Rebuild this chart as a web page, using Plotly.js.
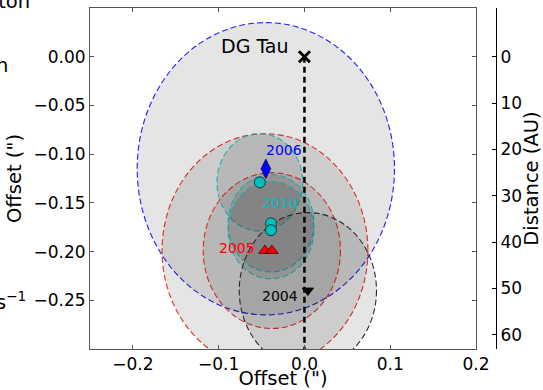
<!DOCTYPE html>
<html>
<head>
<meta charset="utf-8">
<script src="https://cdn.plot.ly/plotly-3.0.1.min.js"></script>
<style>html,body{margin:0;padding:0;background:#fff}#chart{width:543px;height:390px}</style>
</head>
<body>
<div id="chart"></div>
<script>
// ---- data (offsets in arcsec) ----
var srcX = [0.0];
var srcY = [0.0];
var jetX = [0.0, 0.0];
var jetY = [0.0, -0.30];

var x2004 = [0.004];
var y2004 = [-0.240];
var r2004 = [0.080];

var x2005 = [-0.046, -0.038];
var y2005 = [-0.199, -0.199];
var r2005 = [0.120, 0.080];

var x2006 = [-0.045];
var y2006 = [-0.115];
var r2006 = [0.150];

var x2010 = [-0.052, -0.039, -0.039];
var y2010 = [-0.129, -0.171, -0.178];
var r2010 = [0.050, 0.050, 0.050];

var xTicks = [-0.2, -0.1, 0.0, 0.1, 0.2];
var yTicks = [-0.25, -0.20, -0.15, -0.10, -0.05, 0.00];
var auTicks = [0, 10, 20, 30, 40, 50, 60];
var auPerArcsec = 210.3;

var FONT = 'DejaVu Sans';

function circles(xs, ys, rs, color) {
  return xs.map(function (x, i) {
    return {
      type: 'circle', xref: 'x', yref: 'y', layer: 'below',
      x0: x - rs[i], x1: x + rs[i], y0: ys[i] - rs[i], y1: ys[i] + rs[i],
      fillcolor: 'rgba(0,0,0,0.1)',
      line: {color: color, width: 1.1, dash: '6px,3px'}
    };
  });
}

var shapes = []
  .concat(circles(x2006, y2006, r2006, 'rgba(10,10,245,0.9)'))
  .concat(circles(x2005, y2005, r2005, 'rgba(220,25,25,0.9)'))
  .concat(circles(x2010, y2010, r2010, 'rgba(20,170,170,0.9)'))
  .concat(circles(x2004, y2004, r2004, 'rgba(25,25,25,0.9)'));

var traces = [
  {x: jetX, y: jetY, mode: 'lines', line: {color: '#000', width: 2.5, dash: '6px,4px'}, hoverinfo: 'skip'},
  {x: srcX, y: srcY, mode: 'markers', marker: {symbol: 'x-thin', size: 11, line: {color: '#000', width: 3}}},
  {x: x2006, y: y2006, mode: 'markers', marker: {symbol: 'diamond-tall', size: 14, color: '#0000ff', line: {color: '#000', width: 0.6}}},
  {x: x2010, y: y2010, mode: 'markers', marker: {symbol: 'circle', size: 11, color: '#00bfbf', line: {color: '#1a3a3a', width: 1}}},
  {x: x2005, y: y2005, mode: 'markers', marker: {symbol: 'triangle-up', size: 11, color: '#ff0000', line: {color: '#400', width: 0.8}}},
  {x: x2004, y: y2004, mode: 'markers', marker: {symbol: 'triangle-down', size: 10, color: '#000', line: {color: '#000', width: 0.8}}},
  {x: [], y: [], yaxis: 'y2', mode: 'markers', hoverinfo: 'skip'}
];

var layout = {
  width: 543, height: 390,
  margin: {l: 90, r: 47, t: 8, b: 41},
  paper_bgcolor: '#fff', plot_bgcolor: '#fff',
  showlegend: false,
  font: {family: FONT, size: 17, color: '#000'},
  xaxis: {
    domain: [0, 386 / 406],
    range: [-0.25, 0.2], tickvals: xTicks, tickformat: '.1f',
    ticks: 'inside', ticklen: 4, tickcolor: '#555',
    showline: true, linecolor: '#555', linewidth: 1, mirror: 'ticks',
    showgrid: false, zeroline: false,
    tickfont: {family: FONT, size: 17},
    title: {text: 'Offset (")', font: {family: FONT, size: 19.5}, standoff: 7}
  },
  yaxis: {
    range: [-0.30, 0.05], tickvals: yTicks, tickformat: '.2f',
    ticks: 'inside', ticklen: 4, tickcolor: '#555',
    showline: true, linecolor: '#555', linewidth: 1, mirror: 'ticks',
    showgrid: false, zeroline: false,
    tickfont: {family: FONT, size: 17},
    title: {text: 'Offset (")', font: {family: FONT, size: 19.5}, standoff: 6}
  },
  yaxis2: {
    overlaying: 'y', side: 'right', anchor: 'free', position: 1,
    range: [0.30 * auPerArcsec, -0.05 * auPerArcsec],
    tickvals: auTicks, ticks: 'inside', ticklen: 4, tickcolor: '#000',
    showline: true, linecolor: '#000', linewidth: 1,
    showgrid: false, zeroline: false,
    tickfont: {family: FONT, size: 17},
    title: {text: 'Distance (AU)', font: {family: FONT, size: 19.5}, standoff: 4}
  },
  shapes: shapes,
  annotations: [
    {xref: 'x', yref: 'y', x: -0.0573, y: 0.0110, text: 'DG Tau', showarrow: false, font: {family: FONT, size: 19, color: '#000'}},
    {xref: 'x', yref: 'y', x: -0.024, y: -0.096, text: '2006', showarrow: false, font: {family: FONT, size: 14, color: '#0000ff'}},
    {xref: 'x', yref: 'y', x: -0.0287, y: -0.150, text: '2010', showarrow: false, font: {family: FONT, size: 14, color: '#00bfbf'}},
    {xref: 'x', yref: 'y', x: -0.079, y: -0.196, text: '2005', showarrow: false, font: {family: FONT, size: 14, color: '#ff0000'}},
    {xref: 'x', yref: 'y', x: -0.0287, y: -0.246, text: '2004', showarrow: false, font: {family: FONT, size: 14, color: '#000'}},
    {xref: 'paper', yref: 'paper', x: -0.1429, y: 1.0205, xanchor: 'right', yanchor: 'middle', text: 'ston', showarrow: false, font: {family: FONT, size: 19.5, color: '#000'}},
    {xref: 'paper', yref: 'paper', x: -0.197, y: 0.8328, xanchor: 'right', yanchor: 'middle', text: 'n', showarrow: false, font: {family: FONT, size: 19.5, color: '#000'}},
    {xref: 'paper', yref: 'paper', x: -0.1527, y: 0.1408, xanchor: 'right', yanchor: 'middle', text: 's<sup>−1</sup>', showarrow: false, font: {family: FONT, size: 19.5, color: '#000'}}
  ]
};

Plotly.newPlot('chart', traces, layout, {staticPlot: true, displayModeBar: false});
</script>
</body>
</html>
